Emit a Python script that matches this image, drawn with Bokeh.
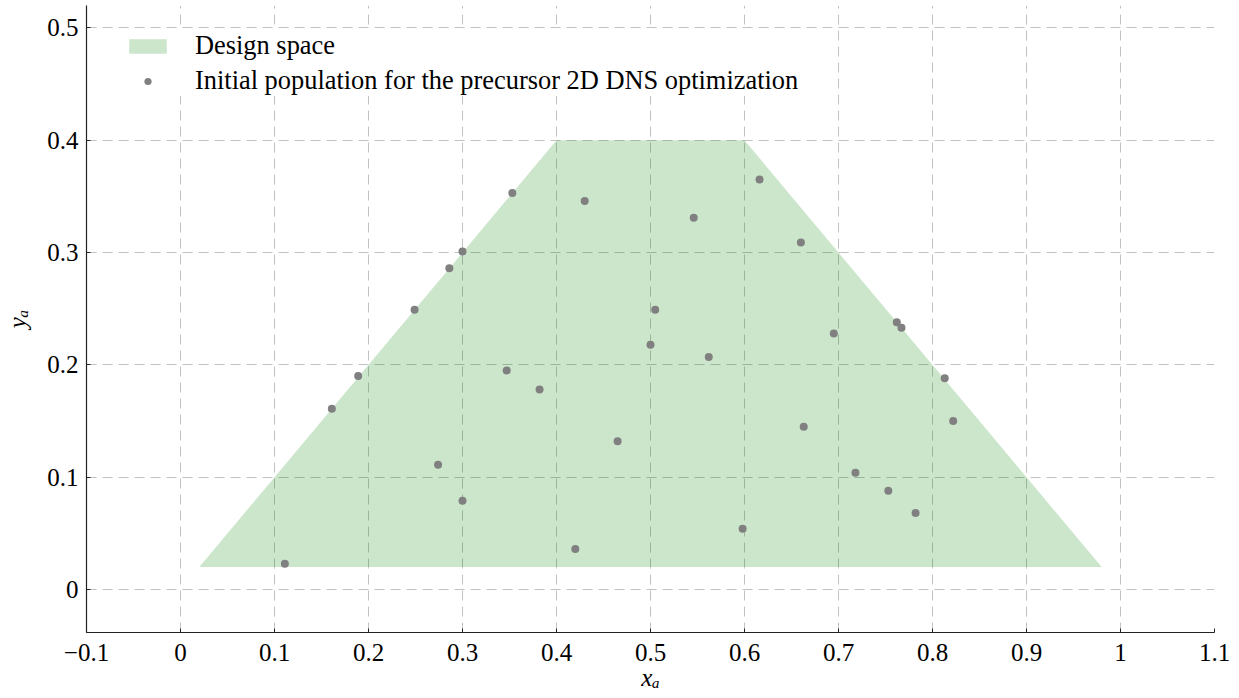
from bokeh.plotting import figure
from bokeh.models import Legend, LegendItem, FixedTicker
from bokeh.embed import file_html
from bokeh.resources import INLINE

# Design space boundary (trapezoid corners)
design_x = [0.02, 0.40, 0.60, 0.98]
design_y = [0.02, 0.40, 0.40, 0.02]

# Initial population for the precursor 2D DNS optimization
pop_x = [0.111, 0.161, 0.189, 0.249, 0.286, 0.300, 0.353, 0.430, 0.274, 0.300,
         0.347, 0.382, 0.465, 0.420, 0.500, 0.505, 0.546, 0.562, 0.598, 0.616,
         0.660, 0.663, 0.695, 0.718, 0.753, 0.762, 0.767, 0.782, 0.813, 0.822]
pop_y = [0.023, 0.161, 0.190, 0.249, 0.286, 0.301, 0.353, 0.346, 0.111, 0.079,
         0.195, 0.178, 0.132, 0.036, 0.218, 0.249, 0.331, 0.207, 0.054, 0.365,
         0.309, 0.145, 0.228, 0.104, 0.088, 0.238, 0.233, 0.068, 0.188, 0.150]

x_ticks = [-0.1, 0, 0.1, 0.2, 0.3, 0.4, 0.5, 0.6, 0.7, 0.8, 0.9, 1, 1.1]
x_tick_labels = ["\u22120.1", "0", "0.1", "0.2", "0.3", "0.4", "0.5", "0.6",
                 "0.7", "0.8", "0.9", "1", "1.1"]
y_ticks = [0, 0.1, 0.2, 0.3, 0.4, 0.5]
y_tick_labels = ["0", "0.1", "0.2", "0.3", "0.4", "0.5"]

FONT = "Liberation Serif"
FS = "25px"

p = figure(width=1239, height=698, x_range=(-0.1, 1.1), y_range=(-0.0383, 0.52),
           output_backend="svg", toolbar_location=None,
           min_border_left=86, min_border_right=25, min_border_top=5,
           min_border_bottom=66)
p.outline_line_color = None
p.background_fill_color = "white"

# grid
for g, t in ((p.xgrid, x_ticks), (p.ygrid, y_ticks)):
    g.ticker = FixedTicker(ticks=t)
    g.grid_line_color = "#c2c2c2"
    g.grid_line_width = 1
    g.grid_line_dash = "10 6"

# axes
for ax, t, lab in ((p.xaxis, x_ticks, x_tick_labels), (p.yaxis, y_ticks, y_tick_labels)):
    ax.ticker = FixedTicker(ticks=t)
    ax.major_label_overrides = {k: v for k, v in zip(t, lab)}
    ax.axis_line_color = "#222222"
    ax.axis_line_width = 1.2
    ax.major_tick_line_color = "#222222"
    ax.major_tick_in = 4
    ax.major_tick_out = 0
    ax.minor_tick_line_color = None
    ax.major_label_text_font = FONT
    ax.major_label_text_font_size = FS
    ax.major_label_text_color = "black"
    ax.axis_label_text_font = FONT
    ax.axis_label_text_font_style = "italic"
    ax.axis_label_text_font_size = FS
    ax.axis_label_text_color = "black"
p.xaxis.major_label_standoff = 11
p.yaxis.major_label_standoff = 8
p.xaxis.axis_label = "x\u2090"
p.yaxis.axis_label = "y\u2090"
p.xaxis.axis_label_standoff = 0
p.yaxis.axis_label_standoff = 13

design = p.patch(design_x, design_y, fill_color="green", fill_alpha=0.2,
                 line_color=None)
pts = p.scatter(pop_x, pop_y, size=8, fill_color="#808080", line_color=None)

legend = Legend(items=[LegendItem(label="Design space", renderers=[design]),
                       LegendItem(label="Initial population for the precursor 2D DNS optimization",
                                  renderers=[pts])],
                location=(38, 536))
legend.glyph_width = 47
legend.glyph_height = 18
legend.label_standoff = 24
legend.label_text_font = FONT
legend.label_text_font_size = "26.4px"
legend.label_text_color = "black"
legend.label_height = 18
legend.spacing = 4
legend.padding = 8
legend.margin = 0
legend.background_fill_color = "white"
legend.background_fill_alpha = 1.0
legend.border_line_color = None
p.add_layout(legend)

open("out.html", "w").write(file_html(p, INLINE))
